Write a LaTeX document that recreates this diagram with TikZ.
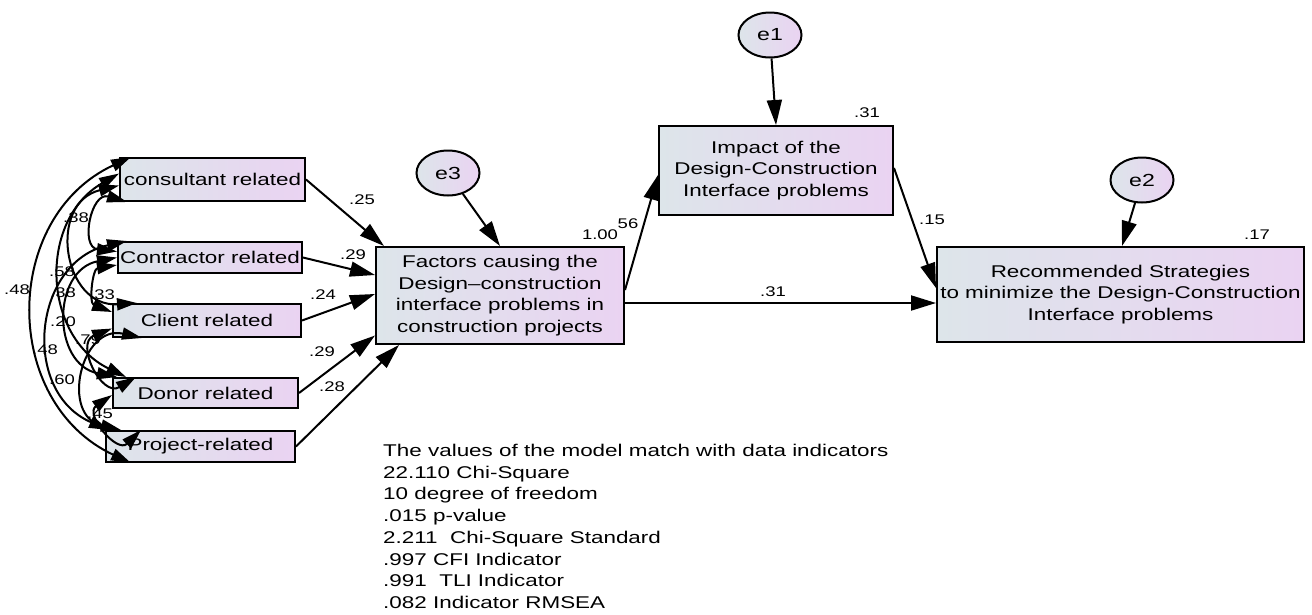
\documentclass[tikz,border=0pt]{standalone}
\usepackage{fontspec}
\setmainfont{Liberation Sans}[FakeStretch=1.32]
\usetikzlibrary{arrows.meta,calc,shapes.geometric}
\definecolor{boxL}{RGB}{221,229,234}
\definecolor{boxR}{RGB}{234,211,242}
\begin{document}
\begin{tikzpicture}[x=1pt,y=1pt,
  box/.style={draw=black, line width=2pt, left color=boxL, right color=boxR, inner sep=0pt, align=center, font=\fontsize{17}{21.5}\selectfont},
  err/.style={ellipse, draw=black, line width=2pt, left color=boxL, right color=boxR, inner sep=0pt, minimum width=63pt, minimum height=45pt, font=\fontsize{17.5}{21.5}\selectfont},
  reg/.style={-{Triangle[length=25pt,width=15pt]}, line width=2pt},
  cov/.style={{Triangle[length=20pt,width=12pt]}-{Triangle[length=20pt,width=12pt]}, line width=2pt},
  lab/.style={font=\fontsize{14}{16}\selectfont, inner sep=0pt},
]
\useasboundingbox (0,0) rectangle (1312,-614);

% exogenous boxes
\node[box, minimum width=185pt, minimum height=43pt] (cons) at (212.5,-179.5) {consultant related};
\node[box, minimum width=184pt, minimum height=31pt] (cont) at (210,-257.5) {Contractor related};
\node[box, minimum width=188pt, minimum height=33pt] (client) at (207,-320.5) {Client related};
\node[box, minimum width=185pt, minimum height=30pt] (donor) at (205.5,-393) {Donor related};
\node[box, minimum width=189pt, minimum height=31pt] (proj) at (200.5,-446.5) {Project-related};

% endogenous boxes
\node[box, minimum width=248pt, minimum height=97pt] (factors) at (500,-295.5) {Factors causing the\\Design–construction\\interface problems in\\construction projects};
\node[box, minimum width=234pt, minimum height=89pt] (impact) at (776,-170.5) {Impact of the\\Design-Construction\\Interface problems};
\node[box, minimum width=367pt, minimum height=95pt] (recom) at (1120.5,-294.5) {Recommended Strategies\\to minimize the Design-Construction\\Interface problems};

% error terms
\node[err] (e1) at (770,-35) {e1};
\node[err] (e2) at (1142,-180) {e2};
\node[err] (e3) at (448,-173) {e3};

% regression paths
\draw[reg] (cons.east) -- ([xshift=9pt]factors.north west);
\draw[reg] (cont.east) -- ([yshift=20.5pt]factors.west);
\draw[reg] (client.east) -- ([yshift=1.5pt]factors.west);
\draw[reg] (donor.east) -- ([yshift=-40pt]factors.west);
\draw[reg] (proj.east) -- ([xshift=24pt]factors.south west);
\draw[reg] (e3) -- (factors.north);
\draw[reg] ([yshift=5.5pt]factors.east) -- ([yshift=-4.5pt]impact.west);
\draw[reg] ([yshift=-7.5pt]factors.east) -- ([yshift=-7.5pt]factors.east -| recom.west);
\draw[reg] ([yshift=2.5pt]impact.east) -- ([yshift=6.5pt]recom.west);
\draw[reg] (e1) -- (impact.north);
\draw[reg] (e2) -- ([xshift=1.5pt]recom.north);

% covariances
\draw[cov] ([xshift=8pt]cons.south west) to[bend right=95, looseness=1.9] ([yshift=6pt]cont.west);
\draw[cov] ([yshift=-6pt]cons.west) to[bend right=85, looseness=1.6] ([xshift=25pt]client.north west);
\draw[cov] ([yshift=6pt]cons.west) to[bend right=62, looseness=1.17] ([xshift=14pt]donor.north west);
\draw[cov] ([xshift=12pt]cons.north west) to[bend right=65, looseness=1.2] ([xshift=26pt]proj.south west);
\draw[cov] ([yshift=-7.5pt]cont.west) to[bend right=75, looseness=1.35] ([yshift=8.5pt]client.west);
\draw[cov] (cont.west) to[bend right=79, looseness=1.43] ([xshift=5pt]donor.north west);
\draw[cov] ([xshift=10pt]cont.north west) to[bend right=72, looseness=1.3] ([xshift=4pt]proj.north west);
\draw[cov] ([yshift=-8pt]client.west) to[bend right=95, looseness=1.9] ([xshift=24pt]donor.north west);
\draw[cov] ([xshift=30pt]client.south west) to[bend right=90, looseness=1.7] ([xshift=16pt]proj.north west);
\draw[cov] ([yshift=-2pt]donor.west) to[bend right=95, looseness=1.9] ([xshift=36pt]proj.north west);

% path labels
\node[lab] (l1) at (362,-200) {.25};
\node[lab] (l2) at (353,-255) {.29};
\node[lab] (l3) at (323,-295) {.24};
\node[lab] (l4) at (322,-352) {.29};
\node[lab] (l5) at (332,-387) {.28};
\node[lab] (l6) at (600,-235) {1.00};
\node[lab] (l7) at (628,-224) {56};
\node[lab] (l8) at (773,-292) {.31};
\node[lab] (l9) at (932,-220) {.15};
\node[lab] (l10) at (867,-113) {.31};
\node[lab] (l11) at (1257,-235) {.17};

% covariance labels
\node[lab] (c1) at (76,-218) {.38};
\node[lab] (c2) at (62,-272) {.58};
\node[lab] (c3) at (17,-290) {.48};
\node[lab] (c4) at (63,-293) {.38};
\node[lab] (c5) at (102,-295) {.33};
\node[lab] (c6) at (63,-322) {.20};
\node[lab] (c7) at (88,-340) {.79};
\node[lab] (c8) at (45,-350) {.48};
\node[lab] (c9) at (62,-380) {.60};
\node[lab] (c10) at (100,-414) {.45};

% fit indices
\node[anchor=north west, align=left, inner sep=0pt, font=\fontsize{17}{21.7}\selectfont] (stats) at (383,-444)
{The values of the model match with data indicators\\
22.110 Chi-Square\\
10 degree of freedom\\
.015 p-value\\
2.211~ Chi-Square Standard\\
.997 CFI Indicator\\
.991~ TLI Indicator\\
.082 Indicator RMSEA};
\end{tikzpicture}
\end{document}
